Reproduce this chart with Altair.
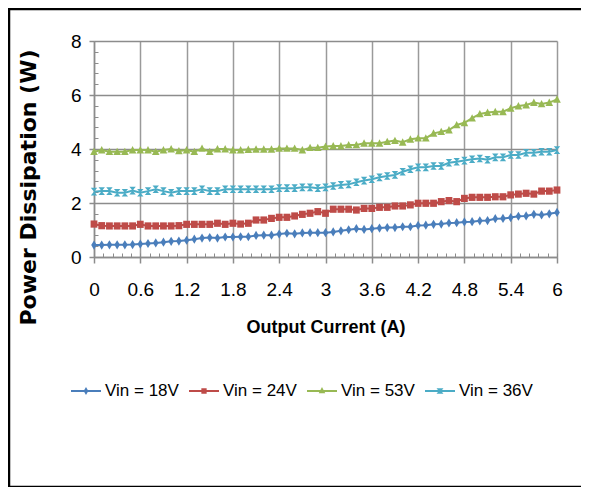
import altair as alt
import pandas as pd

# ---------------- data ----------------
current = [0.0, 0.1, 0.2, 0.3, 0.4, 0.5, 0.6, 0.7, 0.8, 0.9,
           1.0, 1.1, 1.2, 1.3, 1.4, 1.5, 1.6, 1.7, 1.8, 1.9,
           2.0, 2.1, 2.2, 2.3, 2.4, 2.5, 2.6, 2.7, 2.8, 2.9,
           3.0, 3.1, 3.2, 3.3, 3.4, 3.5, 3.6, 3.7, 3.8, 3.9,
           4.0, 4.1, 4.2, 4.3, 4.4, 4.5, 4.6, 4.7, 4.8, 4.9,
           5.0, 5.1, 5.2, 5.3, 5.4, 5.5, 5.6, 5.7, 5.8, 5.9, 6.0]

p18 = [0.44, 0.44, 0.45, 0.45, 0.45, 0.46, 0.48, 0.50, 0.52, 0.55,
       0.58, 0.59, 0.62, 0.66, 0.70, 0.72, 0.70, 0.74, 0.74, 0.75,
       0.75, 0.80, 0.81, 0.81, 0.85, 0.88, 0.86, 0.89, 0.90, 0.90,
       0.90, 0.93, 0.97, 1.01, 1.05, 1.02, 1.05, 1.07, 1.09, 1.09,
       1.12, 1.12, 1.17, 1.18, 1.21, 1.22, 1.26, 1.27, 1.30, 1.31,
       1.34, 1.35, 1.42, 1.43, 1.46, 1.51, 1.52, 1.58, 1.56, 1.60, 1.65]

p24 = [1.22, 1.16, 1.15, 1.15, 1.15, 1.15, 1.21, 1.15, 1.15, 1.15,
       1.15, 1.16, 1.21, 1.21, 1.21, 1.21, 1.25, 1.21, 1.25, 1.22,
       1.25, 1.37, 1.37, 1.43, 1.47, 1.47, 1.52, 1.58, 1.62, 1.68,
       1.62, 1.77, 1.77, 1.77, 1.74, 1.80, 1.80, 1.84, 1.84, 1.89,
       1.89, 1.93, 1.99, 1.99, 1.99, 2.05, 2.09, 2.05, 2.17, 2.21,
       2.21, 2.21, 2.23, 2.23, 2.30, 2.33, 2.36, 2.33, 2.44, 2.44, 2.48]

p53 = [3.90, 3.96, 3.90, 3.90, 3.90, 3.96, 3.96, 3.96, 3.90, 3.96,
       4.00, 3.93, 3.96, 3.90, 4.02, 3.90, 4.00, 4.00, 3.96, 3.96,
       3.98, 3.99, 3.99, 3.99, 4.02, 4.02, 4.02, 3.96, 4.05, 4.05,
       4.09, 4.11, 4.11, 4.15, 4.15, 4.21, 4.21, 4.21, 4.27, 4.31,
       4.25, 4.36, 4.40, 4.40, 4.58, 4.64, 4.70, 4.89, 4.97, 5.14,
       5.30, 5.35, 5.38, 5.38, 5.51, 5.59, 5.63, 5.72, 5.67, 5.72, 5.84]

p36 = [2.42, 2.44, 2.44, 2.38, 2.38, 2.46, 2.38, 2.44, 2.51, 2.44,
       2.38, 2.44, 2.44, 2.44, 2.51, 2.44, 2.44, 2.51, 2.51, 2.51,
       2.51, 2.51, 2.51, 2.51, 2.55, 2.55, 2.55, 2.58, 2.58, 2.55,
       2.58, 2.63, 2.67, 2.69, 2.77, 2.83, 2.88, 2.95, 3.00, 3.04,
       3.16, 3.25, 3.32, 3.32, 3.37, 3.37, 3.49, 3.53, 3.57, 3.62,
       3.65, 3.60, 3.69, 3.69, 3.78, 3.78, 3.86, 3.86, 3.90, 3.90, 3.96]

series_names = ["Vin = 18V", "Vin = 24V", "Vin = 53V", "Vin = 36V"]
series_values = [p18, p24, p53, p36]
series_colors = ["#4A7EBB", "#BE4B48", "#98B954", "#4BACC6"]

x_ticks = [0, 0.6, 1.2, 1.8, 2.4, 3, 3.6, 4.2, 4.8, 5.4, 6]
y_ticks = [0, 2, 4, 6, 8]
x_minor = [round(i * 0.12, 2) for i in range(51)]
y_minor = [round(i * 0.4, 1) for i in range(21)]

# ---------------- styles ----------------
NARROW = "Liberation Sans Narrow, Arial Narrow, Liberation Sans, sans-serif"
GRID = "#8C8C8C"

marker_paths = [
    "M0,-1.15L0.7,0L0,1.15L-0.7,0Z",        # diamond
    "M-0.85,-0.9H0.85V0.9H-0.85Z",           # square
    "M0,-1L0.95,0.85H-0.95Z",                # triangle
    "M-0.8,-0.95H0.8L-0.8,0.95H0.8Z",        # bow-tie
]
legend_paths = [
    "M-1,0H1M0,-0.14L0.08,0L0,0.14L-0.08,0Z",
    "M-1,0H1M-0.11,-0.11H0.11V0.11H-0.11Z",
    "M-1,0H1M0,-0.12L0.11,0.09H-0.11Z",
    "M-1,0H1M-0.09,-0.11H0.09L-0.09,0.11H0.09Z",
]

rows = []
for name, vals in zip(series_names, series_values):
    for c, v in zip(current, vals):
        rows.append({"current": c, "power": v, "series": name})
df = pd.DataFrame(rows)

W, H = 463, 216

x_scale = alt.Scale(domain=[0, 6], nice=False, zero=False)
y_scale = alt.Scale(domain=[0, 8], nice=False)

x_main_axis = alt.Axis(
    values=x_ticks, format=".1~f", grid=True, gridColor="#9A9A9A", gridWidth=1.5,
    domainColor=GRID, domainWidth=1.5, tickColor=GRID, tickWidth=1.5, tickSize=6,
    labelFont=NARROW, labelFontSize=19, labelColor="black", labelPadding=17,
    labelFlush=False,
    title="Output Current (A)", titleFont=NARROW, titleFontSize=18,
    titleFontWeight="bold", titleColor="black", titleY=70, titleBaseline="middle",
)
y_main_axis = alt.Axis(
    values=y_ticks, grid=True, gridColor=GRID, gridWidth=1.5,
    domainColor=GRID, domainWidth=1.5, tickColor=GRID, tickWidth=1.5, tickSize=5,
    labelFont=NARROW, labelFontSize=19, labelColor="black", labelPadding=8,
    labelFlush=False,
    title="Power Dissipation (W)", titleFont="DejaVu Sans", titleFontSize=22,
    titleFontWeight="bold", titleColor="black", titleAngle=270,
    titleX=-66, titleY=146, titleAlign="center", titleBaseline="middle",
)

base = alt.Chart(df)
one = alt.Data(values=[{"k": 1}])

# outer frame (left, top, bottom edges; the right edge lies outside the picture)
frame_top = alt.Chart(one).mark_rule(stroke="black", strokeWidth=2.5).encode(
    x=alt.value(-86), x2=alt.value(487), y=alt.value(-32))
frame_bottom = alt.Chart(one).mark_rule(stroke="black", strokeWidth=2.5).encode(
    x=alt.value(-86), x2=alt.value(487), y=alt.value(446))
frame_left = alt.Chart(one).mark_rule(stroke="black", strokeWidth=2.5).encode(
    x=alt.value(-85), y=alt.value(-33), y2=alt.value(447))

layers = [frame_top, frame_bottom, frame_left]

for i, (name, color) in enumerate(zip(series_names, series_colors)):
    sub = base.transform_filter(alt.datum.series == name)
    layers.append(
        sub.mark_line(strokeWidth=2, color=color).encode(
            x=alt.X("current:Q", scale=x_scale, axis=x_main_axis if i == 0 else None),
            y=alt.Y("power:Q", scale=y_scale, axis=y_main_axis if i == 0 else None),
        )
    )
for name, color, path in zip(series_names, series_colors, marker_paths):
    sub = base.transform_filter(alt.datum.series == name)
    layers.append(
        sub.mark_point(filled=True, opacity=1, size=64, strokeWidth=0, shape=path,
                       color=color).encode(
            x=alt.X("current:Q", scale=x_scale, axis=None),
            y=alt.Y("power:Q", scale=y_scale, axis=None),
        )
    )

leg = dict(
    orient="none", legendX=-24, legendY=334, direction="horizontal", columns=4,
    title=None, labelFont=NARROW, labelFontSize=17, labelColor="black",
    symbolSize=900, symbolStrokeWidth=2, labelOffset=3, columnPadding=6,
)

legend_layer = base.transform_filter("false").mark_point(
    filled=False, opacity=1, strokeWidth=2
).encode(
    x=alt.X("current:Q", scale=x_scale, axis=alt.Axis(
        values=x_minor, orient="bottom", offset=-4, tickSize=4, tickColor=GRID,
        tickWidth=1, labels=False, domain=False, grid=False, title=None)),
    y=alt.Y("power:Q", scale=y_scale, axis=alt.Axis(
        values=y_minor, orient="left", offset=-4, tickSize=4, tickColor=GRID,
        tickWidth=1, labels=False, domain=False, grid=False, title=None)),
    stroke=alt.Stroke("series:N", scale=alt.Scale(domain=series_names, range=series_colors),
                      legend=alt.Legend(**leg)),
    shape=alt.Shape("series:N", scale=alt.Scale(domain=series_names, range=legend_paths),
                    legend=alt.Legend(**leg)),
)
layers.append(legend_layer)

chart = alt.layer(*layers).resolve_axis(
    x="independent", y="independent"
).properties(
    width=W, height=H,
    autosize=alt.AutoSizeParams(type="none"),
    padding={"left": 86, "top": 33, "right": 24, "bottom": 230},
).configure_view(stroke=None)

chart.save("out.html", embed_options={"renderer": "svg", "actions": False})
